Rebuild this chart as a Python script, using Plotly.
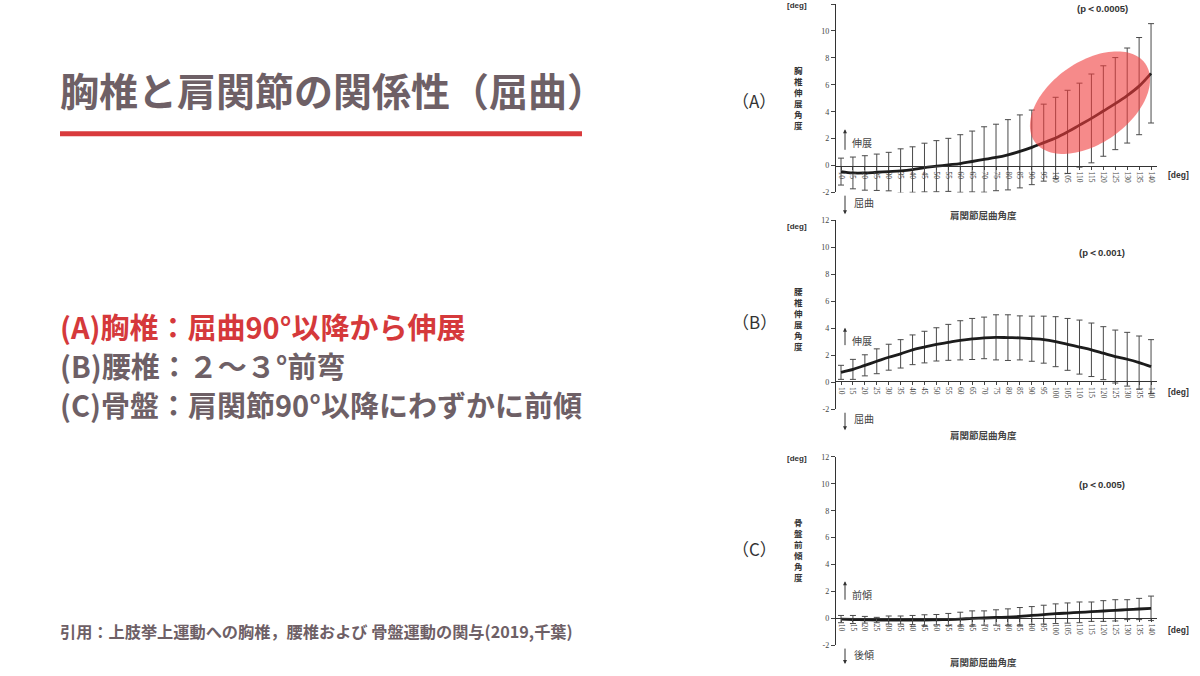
import numpy as np
import plotly.graph_objects as go

W, H = 1200, 676

# ---------------- data ----------------
angles = list(range(10, 145, 5))
angle_labels = [str(a) for a in angles]
y_ticks = [-2, 0, 2, 4, 6, 8, 10, 12]

thoracic_mean = [-0.45, -0.55, -0.55, -0.5, -0.45, -0.4, -0.3, -0.15, -0.05, 0.05,
                 0.15, 0.3, 0.45, 0.6, 0.8, 1.05, 1.35, 1.7, 2.05, 2.5,
                 3.0, 3.5, 4.05, 4.6, 5.2, 5.9, 6.85]
thoracic_sd = [1.0, 1.18, 1.28, 1.35, 1.43, 1.64, 1.69, 1.81, 1.9, 1.97,
               2.14, 2.26, 2.43, 2.47, 2.61, 2.71, 2.77, 2.86, 3.02, 3.09,
               3.12, 3.3, 3.36, 3.42, 3.53, 3.61, 3.69]

lumbar_mean = [0.73, 0.95, 1.25, 1.55, 1.85, 2.1, 2.4, 2.6, 2.8, 2.95,
               3.1, 3.2, 3.28, 3.32, 3.3, 3.28, 3.22, 3.15, 3.0, 2.8,
               2.6, 2.4, 2.15, 1.9, 1.7, 1.45, 1.15]
lumbar_sd = [0.52, 0.74, 0.78, 0.92, 0.96, 1.05, 1.1, 1.17, 1.23, 1.33,
             1.45, 1.52, 1.54, 1.67, 1.69, 1.63, 1.67, 1.74, 1.85, 1.92,
             2.0, 1.98, 1.96, 1.96, 1.99, 1.97, 2.0]

pelvis_mean = [-0.05, -0.08, -0.1, -0.12, -0.12, -0.12, -0.12, -0.12, -0.1, -0.08,
               -0.05, 0.0, 0.03, 0.07, 0.1, 0.15, 0.22, 0.28, 0.35, 0.4,
               0.45, 0.5, 0.55, 0.6, 0.65, 0.7, 0.75]
pelvis_sd = [0.27, 0.3, 0.25, 0.2, 0.3, 0.3, 0.34, 0.39, 0.39, 0.45,
             0.51, 0.56, 0.53, 0.57, 0.61, 0.66, 0.66, 0.7, 0.73, 0.75,
             0.77, 0.72, 0.77, 0.79, 0.74, 0.79, 0.91]

panel_labels = ["（A）", "（B）", "（C）"]
y_titles = ["胸椎伸展角度", "腰椎伸展角度", "骨盤前傾角度"]
p_values = ["(p＜0.0005)", "(p＜0.001)", "(p＜0.005)"]
up_words = ["伸展", "伸展", "前傾"]
down_words = ["屈曲", "屈曲", "後傾"]
x_title = "肩関節屈曲角度"

title_text = "胸椎と肩関節の関係性（屈曲）"
bullets = ["(A)胸椎：屈曲90°以降から伸展", "(B)腰椎：２〜３°前弯", "(C)骨盤：肩関節90°以降にわずかに前傾"]
bullet_colors = ["#d5393b", "#6e6066", "#6e6066"]
citation = "引用：上肢挙上運動への胸椎，腰椎および 骨盤運動の関与(2019,千葉)"

# ---------------- helpers ----------------
def px(x):
    return x / W

def py(y):
    return 1 - y / H

CJK = "Noto Sans CJK JP"
GRAY = "#6e6066"

# panel geometry (pixels)
panels = [
    dict(top=0, bottom=191, zero=164, lab=98, ytit=95, degtop=2, degright=173, pval=5, xtit=214,
         up=(127, 149), uptxt=140, dn=(193, 213), dntxt=201),
    dict(top=219, bottom=410.7, zero=382.3, lab=322, ytit=319, degtop=225, degright=393, pval=252, xtit=437,
         up=(328, 347), uptxt=341, dn=(413, 432), dntxt=420),
    dict(top=459, bottom=650, zero=622.3, lab=552, ytit=553, degtop=461, degright=634, pval=487, xtit=667,
         up=(585, 605), uptxt=598, dn=(652, 669), dntxt=659),
]

means = [thoracic_mean, lumbar_mean, pelvis_mean]
sds = [thoracic_sd, lumbar_sd, pelvis_sd]

fig = go.Figure()
layout = dict(
    width=W, height=H, margin=dict(l=0, r=0, t=0, b=0),
    paper_bgcolor="white", plot_bgcolor="rgba(0,0,0,0)", showlegend=False,
)
annotations = []
shapes = []


def ann(x, y, text, size, color="#333", family=CJK, xanchor="center", **kw):
    annotations.append(dict(x=px(x), y=py(y), xref="paper", yref="paper", text=text, showarrow=False,
                            xanchor=xanchor, yanchor="middle",
                            font=dict(family=family, size=size, color=color), **kw))


for i, p in enumerate(panels):
    sfx = "" if i == 0 else str(i + 1)
    xa, ya = "x" + sfx, "y" + sfx
    fig.add_trace(go.Scatter(
        x=angles, y=means[i], xaxis=xa, yaxis=ya, mode="lines",
        line=dict(color="#1c1c1c", width=2.8, shape="spline"),
        error_y=dict(type="data", array=sds[i], visible=True, color="#4a4a4a", thickness=1, width=3),
        hoverinfo="skip",
    ))
    layout["xaxis" + sfx] = dict(
        domain=[px(836), px(1157)], range=[7.9, 142.5], anchor="free", position=py(p["zero"]),
        tickvals=angles, ticktext=angle_labels, tickangle=90,
        tickfont=dict(family="Liberation Serif", size=7.5, color="#444"),
        ticks="outside", ticklen=3, tickcolor="#444", showline=True, linecolor="#333", linewidth=1.2,
        showgrid=False, zeroline=False, fixedrange=True,
    )
    layout["yaxis" + sfx] = dict(
        domain=[py(p["bottom"]), py(p["top"])], range=[-2, 12], anchor=xa,
        tickvals=y_ticks, ticktext=[str(v) for v in y_ticks],
        tickfont=dict(family="Liberation Serif", size=8, color="#444"),
        ticks="outside", ticklen=4, tickcolor="#444", showline=True, linecolor="#333", linewidth=1.2,
        showgrid=False, zeroline=False, fixedrange=True,
    )

    ann(754, p["lab"], panel_labels[i], 17, color="#333")
    ann(798, p["ytit"], "<b>" + "<br>".join(y_titles[i]) + "</b>", 8.5, color="#333")
    ann(797, p["degtop"], "<b>[deg]</b>", 8, color="#333", family="Liberation Sans")
    ann(1178, p["degright"], "<b>[deg]</b>", 8.5, color="#333", family="Liberation Sans")
    ann(1102, p["pval"], "<b>" + p_values[i] + "</b>", 9.5, color="#333", family="Liberation Sans")
    ann(984, p["xtit"], "<b>" + x_title + "</b>", 9.5, color="#444")
    ann(850, p["uptxt"], up_words[i], 10, color="#444", xanchor="left")
    ann(852, p["dntxt"], down_words[i], 10, color="#444", xanchor="left")
    # arrows
    for head, tail in [(p["up"][0], p["up"][1]), (p["dn"][1], p["dn"][0])]:
        annotations.append(dict(x=px(845), y=py(head), xref="paper", yref="paper", ax=0, ay=tail - head,
                                axref="pixel", ayref="pixel", text="", showarrow=True,
                                arrowhead=2, arrowsize=0.8, arrowwidth=1, arrowcolor="#333"))

# red highlight ellipse on panel A
t = np.linspace(0, 2 * np.pi, 120)
cx, cy, a, b, th = 1090, 100, 68, 41, np.deg2rad(36)
ex = cx + a * np.cos(t) * np.cos(th) - b * np.sin(t) * np.sin(th)
ey = cy - (a * np.cos(t) * np.sin(th) + b * np.sin(t) * np.cos(th))
path = "M " + " L ".join(f"{px(x):.5f},{py(y):.5f}" for x, y in zip(ex, ey)) + " Z"
shapes.append(dict(type="path", path=path, xref="paper", yref="paper", fillcolor="rgba(240,60,60,0.6)",
                   line=dict(width=0), layer="above"))

# left-side text
annotations.append(dict(x=px(58), y=py(86), xref="paper", yref="paper", text="<b>" + title_text + "</b>",
                        showarrow=False, xanchor="left", yanchor="middle",
                        font=dict(family=CJK, size=39, color=GRAY)))
shapes.append(dict(type="line", xref="paper", yref="paper", x0=px(60), x1=px(582), y0=py(131.5), y1=py(131.5),
                   line=dict(color="#d93a3c", width=5)))
for j, (txt, col) in enumerate(zip(bullets, bullet_colors)):
    annotations.append(dict(x=px(58), y=py(326 + j * 39.5), xref="paper", yref="paper", text="<b>" + txt + "</b>",
                            showarrow=False, xanchor="left", yanchor="middle",
                            font=dict(family=CJK, size=29, color=col)))
annotations.append(dict(x=px(58), y=py(635), xref="paper", yref="paper", text="<b>" + citation + "</b>",
                        showarrow=False, xanchor="left", yanchor="middle",
                        font=dict(family=CJK, size=16.2, color=GRAY)))

layout["annotations"] = annotations
layout["shapes"] = shapes
fig.update_layout(**layout)
fig.write_html("out.html", config={"displayModeBar": False, "staticPlot": True},
               post_script="document.body.style.margin='0';document.body.style.overflow='hidden';")
